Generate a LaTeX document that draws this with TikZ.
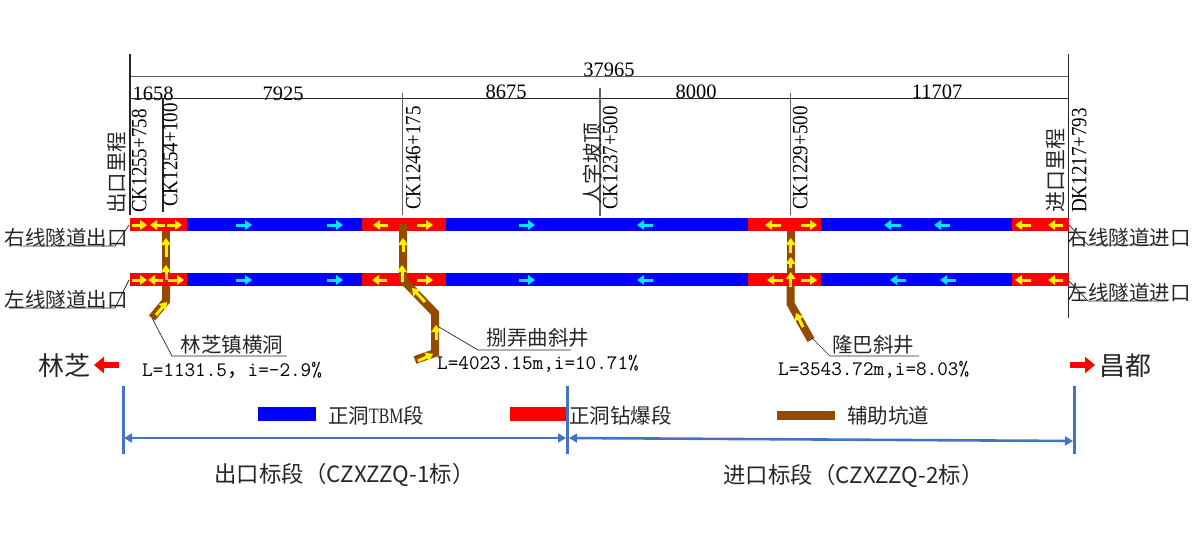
\documentclass[tikz,border=0pt]{standalone}
\usepackage{fontspec}
\usepackage{graphicx}
\setmainfont{Liberation Serif}
\newfontfamily\cjk{Noto Sans CJK SC}
\usetikzlibrary{arrows.meta}
\definecolor{adit}{HTML}{944B00}
\definecolor{bline}{HTML}{4472C4}
\definecolor{cy}{HTML}{00E8FF}
\newcommand{\fs}[1]{\fontsize{#1}{#1}\selectfont}
\newcommand{\narrow}[1]{\scalebox{.87}[1]{#1}}
\tikzset{
  x=1pt,y=-1pt,
  dimline/.style={line width=1.1pt,black!85},
  graydim/.style={line width=1.3pt,black!62},
  txt/.style={inner sep=0pt,font=\fs{20.5}},
  vt/.style={inner sep=0pt,rotate=90,anchor=mid west,font=\fs{21.8}},
  vc/.style={inner sep=0pt,rotate=90,anchor=mid west,text=black!85,font=\cjk\fs{19.5}},
  cn/.style={inner sep=0pt,text=black!85,font=\cjk\fs{20.5}},
  mono/.style={inner sep=0pt,font=\ttfamily\fs{20.6}},
  ya/.style={line width=3pt,yellow,-{Triangle[width=9.5pt,length=7pt]}},
  ca/.style={line width=3pt,cy,-{Triangle[width=9.5pt,length=7pt]}},
  adt/.style={line width=8pt,adit,line join=miter},
  lead/.style={line width=.7pt,black!85},
  ra/.style={line width=6pt,red,-{Triangle[width=16pt,length=10pt]}},
  bar/.style={line width=3pt,bline},
  da/.style={line width=2.6pt,bline,{Triangle[width=9pt,length=8pt]}-{Triangle[width=9pt,length=8pt]}},
}
\begin{document}
\begin{tikzpicture}
\useasboundingbox (0,0) rectangle (1200,544);
% dimension lines
\draw[graydim] (130,76.7) -- (1068.5,76.7);
\draw[dimline] (130,98.3) -- (1068.5,98.3);
\draw[dimline] (130,54) -- (130,215);
\draw[dimline] (1068.5,54) -- (1068.5,318);
\draw[dimline] (163,98) -- (163,212);
\draw[graydim] (402.7,93) -- (402.7,215);
\draw[graydim] (600,88) -- (600,216);
\draw[graydim] (790.7,93) -- (790.7,215);
\node[txt] (d0) at (609,70) {37965};
\node[txt] (d1) at (153,94) {1658};
\node[txt] (d2) at (283,94) {7925};
\node[txt] (d3) at (506,92) {8675};
\node[txt] (d4) at (696,92) {8000};
\node[txt] (d5) at (937,92) {11707};
\node[vt] (k1) at (144,213) {\narrow{CK1255+758}};
\node[vt] (k2) at (175,207) {\narrow{CK1254+100}};
\node[vt] (k3) at (418,210) {\narrow{CK1246+175}};
\node[vt] (k4) at (615,210) {\narrow{CK1237+500}};
\node[vt] (k5) at (805,210) {\narrow{CK1229+500}};
\node[vt] (k6) at (1084,213) {\narrow{DK1217+793}};
\node[vc,font=\cjk\fs{20.5}] (v1) at (122,214) {出口里程};
\node[vc,font=\cjk\fs{20.5}] (v2) at (598,205) {人字坡顶};
\node[vc,font=\cjk\fs{21}] (v3) at (1061,213) {进口里程};
% bands
\foreach \ya/\yb in {218/231,273/286}{
  \fill[red] (130,\ya) rectangle (187,\yb);
  \fill[blue] (187,\ya) rectangle (362,\yb);
  \fill[red] (362,\ya) rectangle (446,\yb);
  \fill[blue] (446,\ya) rectangle (748,\yb);
  \fill[red] (748,\ya) rectangle (821,\yb);
  \fill[blue] (821,\ya) rectangle (1012,\yb);
  \fill[red] (1012,\ya) rectangle (1069,\yb);
}
% auxiliary tunnels
\draw[adt] (166,231) -- (166,273);
\draw[adt] (166,286) -- (166,301) -- (152,318);
\draw[adt] (403,224) -- (403,280) -- (435,313) -- (435,353) -- (415,360);
\draw[adt] (790.7,231) -- (790.7,273);
\draw[adt] (790.7,286) -- (790.7,304) -- (811,340);
% cyan arrows
\foreach \y in {225,280}{
  \draw[ca] (236,\y) -- (252,\y);
  \draw[ca] (327,\y) -- (343,\y);
  \draw[ca] (519,\y) -- (535,\y);
  \draw[ca] (653,\y) -- (637,\y);
}
\draw[ca] (901,225) -- (884,225);
\draw[ca] (950,225) -- (934,225);
\draw[ca] (906,280) -- (890,280);
\draw[ca] (956,280) -- (940,280);
% yellow arrows on the drill and blast parts
\draw[ya] (132,225) -- (147,225);
\draw[ya] (165,225) -- (150,225);
\draw[ya] (167,225) -- (182,225);
\draw[ya] (132,280) -- (147,280);
\draw[ya] (163,280) -- (148,280);
\draw[ya] (168,280) -- (184,280);
\draw[ya] (388,225) -- (373,225);
\draw[ya] (417,225) -- (433,225);
\draw[ya] (387,280) -- (372,280);
\draw[ya] (417,280) -- (433,280);
\draw[ya] (781,225) -- (765,225);
\draw[ya] (801,225) -- (817,225);
\draw[ya] (783,280) -- (767,280);
\draw[ya] (801,280) -- (817,280);
\foreach \y in {225,280}{
  \draw[ya] (1031,\y) -- (1015,\y);
  \draw[ya] (1063,\y) -- (1048,\y);
}
% yellow arrows on the auxiliary tunnels
\draw[ya] (166,257) -- (166,238);
\draw[ya] (166,280) -- (166,265);
\draw[ya] (156,315) -- (167,302);
\draw[ya] (403,252) -- (403,238);
\draw[ya] (402,282) -- (402,265);
\draw[ya] (425,302) -- (412,288);
\draw[ya] (436,340) -- (436,325);
\draw[ya] (418,361) -- (433,354);
\draw[ya] (790.7,253) -- (790.7,238);
\draw[ya] (790.7,268) -- (790.7,257);
\draw[ya] (790.7,287) -- (790.7,272);
\draw[ya] (803,327) -- (796,313);
% side labels and leaders
\node[cn] (rx) at (66.5,238) {右线隧道出口};
\node[cn] (lx) at (66.5,300) {左线隧道出口};
\node[cn] (rj) at (1129,238) {右线隧道进口};
\node[cn] (lj) at (1129,293) {左线隧道进口};
\coordinate (p1) at (129,225); \coordinate (p2) at (115,246); \coordinate (p3) at (23,246);
\draw[lead] (p1) -- (p2) -- (p3);
\coordinate (p4) at (129,280); \coordinate (p5) at (115,308); \coordinate (p6) at (9,308);
\draw[lead] (p4) -- (p5) -- (p6);
\coordinate (p7) at (1069,225); \coordinate (p8) at (1088,245); \coordinate (p9) at (1168,245);
\draw[lead] (p7) -- (p8) -- (p9);
\coordinate (p10) at (1069,281); \coordinate (p11) at (1088,301); \coordinate (p12) at (1168,301);
\draw[lead] (p10) -- (p11) -- (p12);
% tunnel labels
\node[cn] (a1) at (232,345) {林芝镇横洞};
\node[mono,anchor=west] (a1b) at (142,370) {L=1131.5{\cjk，}i=-2.9\%};
\coordinate (q1) at (152,318); \coordinate (q2) at (172,356); \coordinate (q3) at (286.5,356);
\draw[lead] (q1) -- (q2) -- (q3);
\node[cn] (a2) at (538,338) {捌弄曲斜井};
\node[mono,anchor=west] (a2b) at (437,364) {L=4023.15m,i=10.71\%};
\coordinate (q4) at (439,327); \coordinate (q5) at (478,350); \coordinate (q6) at (571,350);
\draw[lead] (q4) -- (q5) -- (q6);
\node[cn] (a3) at (873,345) {隆巴斜井};
\node[mono,anchor=west] (a3b) at (778,370) {L=3543.72m,i=8.03\%};
\coordinate (q7) at (812,338); \coordinate (q8) at (830,356); \coordinate (q9) at (919,356);
\draw[lead] (q7) -- (q8) -- (q9);
% ends
\node[cn,font=\cjk\fs{26}] (lz) at (64.5,366) {林芝};
\node[cn,font=\cjk\fs{26}] (cd) at (1125,366) {昌都};
\coordinate (r1) at (119,365); \coordinate (r2) at (94,365);
\draw[ra] (r1) -- (r2);
\coordinate (r3) at (1070,365); \coordinate (r4) at (1095,365);
\draw[ra] (r3) -- (r4);
% legend
\fill[blue] (258,407) rectangle (316,421);
\fill[red] (510,407) rectangle (566,421);
\fill[adit] (777,410.5) rectangle (835,419.5);
\node[cn,anchor=west] (g1) at (328,416) {正洞{\rmfamily\fs{22}\scalebox{.72}[1]{TBM}}段};
\node[cn,anchor=west] (g2) at (569,416) {正洞钻爆段};
\node[cn,anchor=west] (g3) at (847,416) {辅助坑道};
% section brackets
\coordinate (b1a) at (123,386); \coordinate (b1b) at (123,454);
\coordinate (b2a) at (567.5,386); \coordinate (b2b) at (567.5,454);
\coordinate (b3a) at (1074,386); \coordinate (b3b) at (1074,454);
\draw[bar] (b1a) -- (b1b);
\draw[bar] (b2a) -- (b2b);
\draw[bar] (b3a) -- (b3b);
\coordinate (s1) at (124,438); \coordinate (s2) at (566,438);
\coordinate (s3) at (569,438); \coordinate (s4) at (1073,441);
\draw[da] (s1) -- (s2);
\draw[da] (s3) -- (s4);
\node[cn,font=\cjk\fs{22.4}] (t1) at (344.5,475) {出口标段（CZXZZQ-1标）};
\node[cn,font=\cjk\fs{22.4}] (t2) at (853.5,476) {进口标段（CZXZZQ-2标）};
\end{tikzpicture}
\end{document}
